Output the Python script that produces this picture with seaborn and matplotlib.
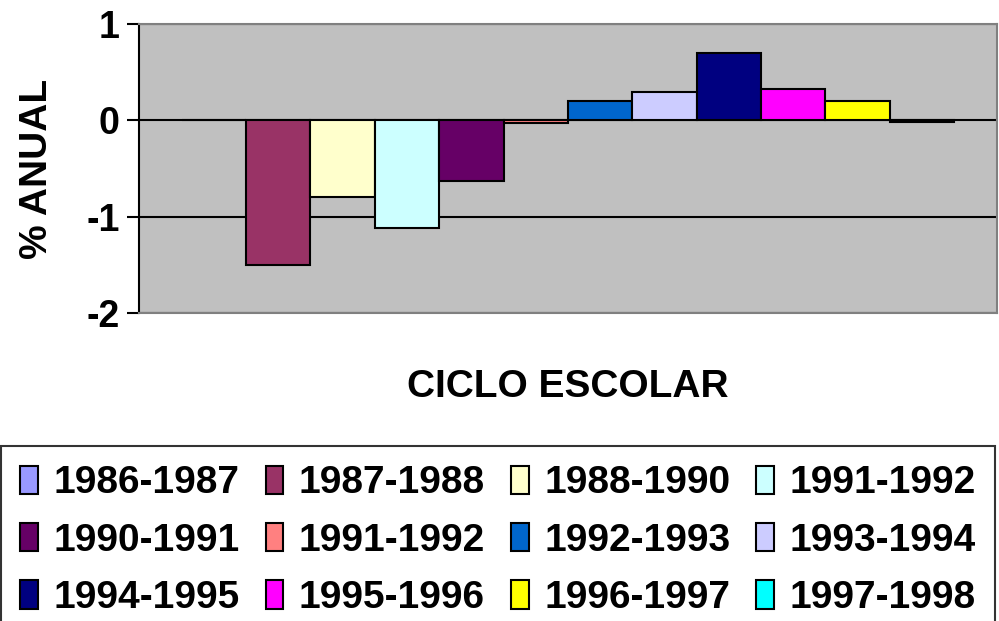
import numpy as np
import pandas as pd
import matplotlib
matplotlib.use("Agg")
import matplotlib.pyplot as plt
import seaborn as sns
from matplotlib.patches import Patch

# Datos: variacion porcentual anual por ciclo escolar
ciclos = ["1986-1987", "1987-1988", "1988-1990", "1991-1992",
          "1990-1991", "1991-1992", "1992-1993", "1993-1994",
          "1994-1995", "1995-1996", "1996-1997", "1997-1998"]
valores = [0.0, -1.50, -0.80, -1.12, -0.63, -0.03, 0.20, 0.30, 0.70, 0.33, 0.20, -0.02]
colores = ["#9999FF", "#993366", "#FFFFCC", "#CCFFFF", "#660066", "#FF8080",
           "#0066CC", "#CCCCFF", "#000080", "#FF00FF", "#FFFF00", "#00FFFF"]
y_ticks = [-2, -1, 0, 1]

sns.set_style("white")
plt.rcParams["font.family"] = ["Liberation Sans", "DejaVu Sans"]
plt.rcParams["font.weight"] = "bold"
plt.rcParams["text.color"] = "black"
plt.rcParams["axes.labelcolor"] = "black"
plt.rcParams["ytick.color"] = "black"
plt.rcParams["ytick.left"] = True

# las etiquetas se repiten (1991-1992), asi que el hue usa un indice
df = pd.DataFrame({
    "grupo": [""] * len(ciclos),
    "serie": [str(i) for i in range(len(ciclos))],
    "valor": valores,
})

fig = plt.figure(figsize=(9.99, 6.21), dpi=100)
ax = fig.add_axes([0.139, 0.496, 0.859, 0.465])

sns.barplot(data=df, x="grupo", y="valor", hue="serie",
            palette=colores, saturation=1, width=0.9, edgecolor="black", linewidth=1.5,
            legend=False, ax=ax, zorder=3)

ax.set_facecolor("#C0C0C0")
ax.set_ylim(-2, 1)
ax.set_xlim(-0.5, 0.5)
ax.set_yticks(y_ticks)
ax.set_yticklabels([str(t) for t in y_ticks], fontsize=27, fontweight="bold")
ax.set_xticks([])
ax.yaxis.grid(True, color="black", linewidth=1.5)
ax.set_axisbelow(True)
ax.tick_params(axis="y", direction="out", length=9, width=1.5, color="black",
               labelcolor="black", pad=5, left=True)

for s in ["top", "bottom", "right"]:
    ax.spines[s].set_color("#808080")
    ax.spines[s].set_linewidth(1.5)
ax.spines["left"].set_color("black")
ax.spines["left"].set_linewidth(1.5)

ax.set_ylabel("% ANUAL", fontsize=28, fontweight="bold", labelpad=22)
ax.set_xlabel("CICLO ESCOLAR", fontsize=28, fontweight="bold", labelpad=40)

# leyenda en filas (matplotlib llena por columnas)
handles = [Patch(facecolor=c, edgecolor="black", linewidth=1.5) for c in colores]
orden = [r * 4 + c for c in range(4) for r in range(3)]
leg = fig.legend([handles[i] for i in orden], [ciclos[i] for i in orden],
                 ncol=4, loc="upper left", bbox_to_anchor=(0.001, 0.282, 0.995, 0.0),
                 mode="expand", frameon=True, fancybox=False, edgecolor="black",
                 prop={"size": 28, "weight": "bold"},
                 handlelength=0.45, handleheight=0.75, handletextpad=0.4,
                 columnspacing=0.6, labelspacing=0.55, borderpad=0.5, borderaxespad=0)
leg.get_frame().set_linewidth(1.5)

fig.savefig("out.png", dpi=100)
